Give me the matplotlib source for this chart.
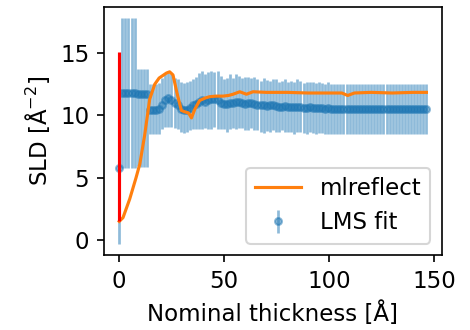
import numpy as np
import matplotlib
matplotlib.use("Agg")
import matplotlib.pyplot as plt

# ---- LMS fit (blue points with error bars) ----
n_points = 101
x_max = 146.3
lms_x = np.linspace(0, x_max, n_points)
lms_y = [5.8, 11.8, 11.8, 11.8, 11.8, 11.8, 11.75, 11.7, 11.7, 11.7,
         10.4, 10.4, 10.4, 10.5, 10.8, 11.2, 11.4, 11.2, 11.0, 10.8,
         10.5, 10.4, 10.4, 10.6, 10.8, 10.9, 11.1, 11.2, 11.1, 11.2,
         11.3, 11.3, 11.2, 11.0, 10.9, 10.9, 11.0, 11.0, 11.1, 11.1,
         11.0, 10.9, 11.0, 11.0, 10.9, 10.85, 10.8, 10.8, 10.75, 10.8,
         10.8, 10.75, 10.7, 10.7, 10.75, 10.7, 10.7, 10.65, 10.7, 10.65,
         10.6, 10.6, 10.65, 10.6, 10.6, 10.6, 10.6, 10.55, 10.6, 10.55,
         10.55, 10.55, 10.55, 10.5, 10.55, 10.5, 10.5, 10.5, 10.5, 10.5,
         10.5, 10.5, 10.5, 10.5, 10.5, 10.5, 10.5, 10.5, 10.5, 10.5,
         10.5, 10.5, 10.5, 10.5, 10.5, 10.5, 10.5, 10.5, 10.5, 10.5,
         10.5]
lms_err_lo = [6.1, 6.0, 6.0, 6.0, 6.0, 6.0, 5.8, 5.8, 5.8, 5.8,
              1.9, 1.9, 1.9, 2.0, 1.9, 2.1, 2.3, 2.1, 2.0, 1.9,
              1.8, 1.8, 1.7, 1.8, 1.9, 2.0, 2.2, 2.3, 2.1, 2.3,
              2.4, 2.2, 2.3, 2.1, 2.0, 2.2, 2.1, 2.0, 2.2, 2.1,
              2.0, 2.1, 2.2, 2.0, 2.1, 2.0, 2.1, 2.2, 2.0, 2.1,
              2.0, 2.1, 2.0, 1.9, 2.1, 2.0, 2.0, 2.1, 2.0, 2.0,
              2.0, 2.1, 2.0, 2.0, 2.1, 2.0, 2.0, 2.0, 2.1, 2.0,
              2.0, 2.0, 2.0, 2.0, 2.0, 2.0, 2.0, 2.0, 2.0, 2.0,
              2.0, 2.0, 2.0, 2.0, 2.0, 2.0, 2.0, 2.0, 2.0, 2.0,
              2.0, 2.0, 2.0, 2.0, 2.0, 2.0, 2.0, 2.0, 2.0, 2.0,
              2.0]
lms_err_hi = [6.1, 6.0, 6.0, 6.0, 6.0, 6.0, 2.0, 2.0, 2.0, 2.0,
              2.1, 2.1, 2.1, 2.1, 2.2, 2.1, 2.0, 2.1, 2.0, 2.1,
              2.2, 2.2, 2.3, 2.2, 2.1, 2.2, 2.3, 2.4, 2.2, 2.3,
              2.3, 2.2, 2.4, 2.2, 2.0, 2.1, 2.3, 2.0, 2.2, 2.1,
              2.0, 2.2, 2.1, 2.0, 2.2, 2.1, 2.0, 2.2, 2.1, 2.0,
              2.1, 2.2, 2.0, 2.1, 2.2, 2.0, 2.1, 2.0, 2.2, 2.1,
              2.0, 2.1, 2.0, 2.1, 2.0, 2.1, 2.0, 2.0, 2.1, 2.0,
              2.0, 2.0, 2.0, 2.0, 2.0, 2.0, 2.0, 2.0, 2.0, 2.0,
              2.0, 2.0, 2.0, 2.0, 2.0, 2.0, 2.0, 2.0, 2.0, 2.0,
              2.0, 2.0, 2.0, 2.0, 2.0, 2.0, 2.0, 2.0, 2.0, 2.0,
              2.0]

# ---- mlreflect prediction (orange line) ----
ml_x = [0, 1.8, 5, 8, 9.8, 12.1, 14.5, 16.9, 19, 22.5, 24, 25.6, 27.5, 29.6,
        31, 33, 34.4, 36, 38.3, 41, 43, 46, 49.4, 52, 54.2, 57.4, 60.6, 63.7,
        70, 80, 90, 100, 106, 108.8, 112, 120, 130, 140, 146.3]
ml_y = [1.5, 1.8, 3.3, 5.0, 6.1, 8.4, 11.3, 12.5, 13.0, 13.4, 13.5, 13.25, 11.8,
        10.4, 10.3, 10.2, 9.8, 10.5, 11.2, 11.4, 11.5, 11.55, 11.55, 11.6, 11.7,
        11.9, 11.7, 11.9, 11.85, 11.85, 11.8, 11.8, 11.8, 11.6, 11.8, 11.85,
        11.8, 11.85, 11.85]

# ---- red vertical marker at zero thickness ----
red_x = 0
red_ymin = 1.5
red_ymax = 15.1

plt.rcParams['font.family'] = ['DejaVu Sans']
plt.rcParams['font.size'] = 11

fig = plt.figure(figsize=(470 / 150, 330 / 150), dpi=150)
ax = fig.add_axes([0.221, 0.227, 0.719, 0.752])

ax.plot(ml_x, ml_y, color='C1', lw=1.5, label='mlreflect', zorder=3)
ax.errorbar(lms_x, lms_y, yerr=[lms_err_lo, lms_err_hi], fmt='o', color='C0',
            ms=3.3, elinewidth=1.3, alpha=0.5, label='LMS fit')
ax.vlines(red_x, red_ymin, red_ymax, color='red', lw=1.5, zorder=3)

ax.set_xticks([0, 50, 100, 150])
ax.set_yticks([0, 5, 10, 15])
ax.set_xlabel('Nominal thickness [Å]')
ax.set_ylabel('SLD [Å$^{-2}$]')
ax.legend(loc='lower right')

fig.savefig('out.png', dpi=150)
